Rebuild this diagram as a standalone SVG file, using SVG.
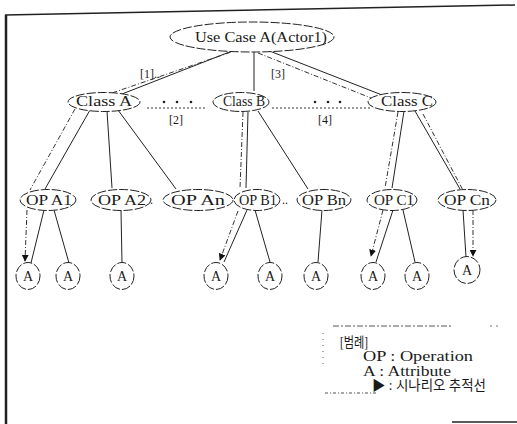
<svg xmlns="http://www.w3.org/2000/svg" width="517" height="424" viewBox="0 0 517 424">
  <style>
    .node ellipse { fill: #fff; stroke: #222; stroke-width: 1; stroke-dasharray: 9 2; }
    .lbl { font-family: "Liberation Serif", "Times New Roman", serif; font-size: 14px; fill: #1a1a1a; text-anchor: middle; }
    .num { font-family: "Liberation Serif", "Times New Roman", serif; font-size: 12px; fill: #1a1a1a; }
    .solid { stroke: #222; stroke-width: 1; fill: none; }
    .trace { stroke: #333; stroke-width: 1; fill: none; stroke-dasharray: 5 2 1 2; }
    .dots { stroke: #333; stroke-width: 1; fill: none; stroke-dasharray: 2 2; }
    .legend { font-family: "Liberation Serif", "Noto Sans CJK KR", serif; font-size: 14px; fill: #1a1a1a; }
  </style>
  <defs>
    <marker id="tip" viewBox="0 0 10 10" refX="9" refY="5" markerWidth="7" markerHeight="7" orient="auto">
      <path d="M0,0 L10,5 L0,10 z" fill="#111"/>
    </marker>
  </defs>
  <rect width="517" height="424" fill="#fff"/>

  <!-- frame -->
  <g id="frame" fill="none" stroke="#222">
    <path d="M5,15 L515,5" stroke-width="1.5"/>
    <path d="M6,15 L6,424" stroke-width="2.5"/>
    <path d="M452,422 L517,422" stroke-width="1.5"/>
  </g>

  <!-- connectors -->
  <g id="connectors">
    <!-- hierarchy links -->
    <path class="solid" d="M232,51 L122,94"/>
    <path class="solid" d="M254,52 L254,91"/>
    <path class="solid" d="M267,50 L382,95"/>
    <path class="solid" d="M90,110 L45,189"/>
    <path class="solid" d="M107,111 L112,188"/>
    <path class="solid" d="M118,110 L176,189"/>
    <path class="solid" d="M248,112 L246,188"/>
    <path class="solid" d="M258,111 L308,189"/>
    <path class="solid" d="M404,111 L392,188"/>
    <path class="solid" d="M415,111 L460,189"/>
    <path class="solid" d="M44,210 L31,263"/>
    <path class="solid" d="M54,210 L69,263"/>
    <path class="solid" d="M121,210 L122,263"/>
    <path class="solid" d="M247,210 L224,262"/>
    <path class="solid" d="M255,210 L270,262"/>
    <path class="solid" d="M322,210 L318,262"/>
    <path class="solid" d="M393,210 L376,262"/>
    <path class="solid" d="M403,210 L415,262"/>
    <path class="solid" d="M463,210 L466,257"/>
    <!-- scenario trace lines -->
    <path class="trace" d="M240,49 L112,93"/>
    <path class="trace" d="M75,109 L30,190"/>
    <path class="trace" d="M27,210 L25,261" marker-end="url(#tip)"/>
    <path class="trace" d="M258,53 L376,100"/>
    <path class="trace" d="M243,112 L240,188"/>
    <path class="trace" d="M238,211 L220,260" marker-end="url(#tip)"/>
    <path class="trace" d="M398,112 L385,188"/>
    <path class="trace" d="M383,210 L371,256" marker-end="url(#tip)"/>
    <path class="trace" d="M423,114 L466,196"/>
    <path class="trace" d="M473,210 L473,256" marker-end="url(#tip)"/>
    <!-- ellipsis between classes -->
    <path class="dots" d="M147,108 L207,108"/>
    <path class="dots" d="M272,108 L370,108"/>
    <g fill="#222">
      <circle cx="164" cy="102" r="1.3"/>
      <circle cx="177" cy="102" r="1.3"/>
      <circle cx="191" cy="102" r="1.3"/>
      <circle cx="315" cy="102" r="1.3"/>
      <circle cx="328" cy="102" r="1.3"/>
      <circle cx="340" cy="102" r="1.3"/>
    </g>
    <text class="num" x="140" y="78">[1]..</text>
    <text class="num" x="176" y="124" text-anchor="middle">[2]</text>
    <text class="num" x="278" y="78" text-anchor="middle">[3]</text>
    <text class="num" x="325" y="124" text-anchor="middle">[4]</text>
    <text class="num" x="150" y="204">.</text>
    <text class="num" x="282" y="204">..</text>
  </g>

  <!-- use case -->
  <g id="usecase" class="node">
    <ellipse cx="252" cy="37" rx="82" ry="15"/>
    <text class="lbl" x="261" y="42" textLength="132" lengthAdjust="spacingAndGlyphs">Use Case A(Actor1)</text>
  </g>

  <!-- classes -->
  <g id="classA" class="node">
    <ellipse cx="104" cy="102" rx="36" ry="9.5"/>
    <text class="lbl" x="104" y="106" textLength="56" lengthAdjust="spacingAndGlyphs">Class  A</text>
  </g>
  <g id="classB" class="node">
    <ellipse cx="241" cy="102" rx="28" ry="9.5"/>
    <text class="lbl" x="244" y="106" textLength="42" lengthAdjust="spacingAndGlyphs">Class B</text>
  </g>
  <g id="classC" class="node">
    <ellipse cx="402" cy="102" rx="34" ry="9.5"/>
    <text class="lbl" x="407" y="106" textLength="52" lengthAdjust="spacingAndGlyphs">Class C</text>
  </g>

  <!-- operations -->
  <g id="opA1" class="node">
    <ellipse cx="48" cy="200" rx="28" ry="10.5"/>
    <text class="lbl" x="49" y="205" textLength="46" lengthAdjust="spacingAndGlyphs">OP A1</text>
  </g>
  <g id="opA2" class="node">
    <ellipse cx="121" cy="200" rx="30" ry="10.5"/>
    <text class="lbl" x="122" y="205" textLength="48" lengthAdjust="spacingAndGlyphs">OP A2</text>
  </g>
  <g id="opAn" class="node">
    <ellipse cx="198" cy="200" rx="35" ry="10.5"/>
    <text class="lbl" x="198" y="205" textLength="54" lengthAdjust="spacingAndGlyphs">OP An</text>
  </g>
  <g id="opB1" class="node">
    <ellipse cx="257" cy="200" rx="23" ry="10.5"/>
    <text class="lbl" x="258" y="205" textLength="38" lengthAdjust="spacingAndGlyphs">OP B1</text>
  </g>
  <g id="opBn" class="node">
    <ellipse cx="324" cy="200" rx="27" ry="10.5"/>
    <text class="lbl" x="324" y="205" textLength="44" lengthAdjust="spacingAndGlyphs">OP Bn</text>
  </g>
  <g id="opC1" class="node">
    <ellipse cx="392" cy="200" rx="25" ry="10.5"/>
    <text class="lbl" x="394" y="205" textLength="40" lengthAdjust="spacingAndGlyphs">OP C1</text>
  </g>
  <g id="opCn" class="node">
    <ellipse cx="467" cy="200" rx="29" ry="10.5"/>
    <text class="lbl" x="467" y="205" textLength="46" lengthAdjust="spacingAndGlyphs">OP Cn</text>
  </g>

  <!-- attributes -->
  <g id="attrA1a" class="node"><ellipse cx="28" cy="276" rx="12" ry="13.5"/><text class="lbl" x="28" y="281">A</text></g>
  <g id="attrA1b" class="node"><ellipse cx="68" cy="276" rx="12" ry="13.5"/><text class="lbl" x="68" y="281">A</text></g>
  <g id="attrA2" class="node"><ellipse cx="122" cy="276" rx="12" ry="13.5"/><text class="lbl" x="122" y="281">A</text></g>
  <g id="attrB1a" class="node"><ellipse cx="216" cy="276" rx="12" ry="13.5"/><text class="lbl" x="216" y="281">A</text></g>
  <g id="attrB1b" class="node"><ellipse cx="270" cy="276" rx="12" ry="13.5"/><text class="lbl" x="270" y="281">A</text></g>
  <g id="attrBn" class="node"><ellipse cx="316" cy="276" rx="12" ry="13.5"/><text class="lbl" x="316" y="281">A</text></g>
  <g id="attrC1a" class="node"><ellipse cx="373" cy="276" rx="12" ry="13.5"/><text class="lbl" x="373" y="281">A</text></g>
  <g id="attrC1b" class="node"><ellipse cx="417" cy="276" rx="12" ry="13.5"/><text class="lbl" x="417" y="281">A</text></g>
  <g id="attrCn" class="node"><ellipse cx="467" cy="270" rx="13" ry="13.5"/><text class="lbl" x="467" y="275">A</text></g>

  <!-- legend -->
  <g id="legend">
    <path d="M333,326 L452,326" stroke="#555" stroke-width="1" stroke-dasharray="6 2 2 2" fill="none"/>
    <path d="M490,326 L498,326" stroke="#777" stroke-width="1" stroke-dasharray="2 4" fill="none"/>
    <path d="M323,333 L323,365" stroke="#555" stroke-width="1" stroke-dasharray="1 5" fill="none"/>
    <path d="M325,393 L378,393" stroke="#555" stroke-width="1" stroke-dasharray="3 2 1 2" fill="none"/>
    <text class="legend" x="340" y="347" font-size="12" textLength="28" lengthAdjust="spacingAndGlyphs">[범례]</text>
    <text class="legend" x="363" y="361" textLength="110" lengthAdjust="spacingAndGlyphs">OP : Operation</text>
    <text class="legend" x="363" y="376" textLength="88" lengthAdjust="spacingAndGlyphs">A : Attribute</text>
    <text class="legend" x="372" y="390" font-size="12" textLength="114" lengthAdjust="spacingAndGlyphs">▶ : 시나리오 추적선</text>
  </g>
</svg>
